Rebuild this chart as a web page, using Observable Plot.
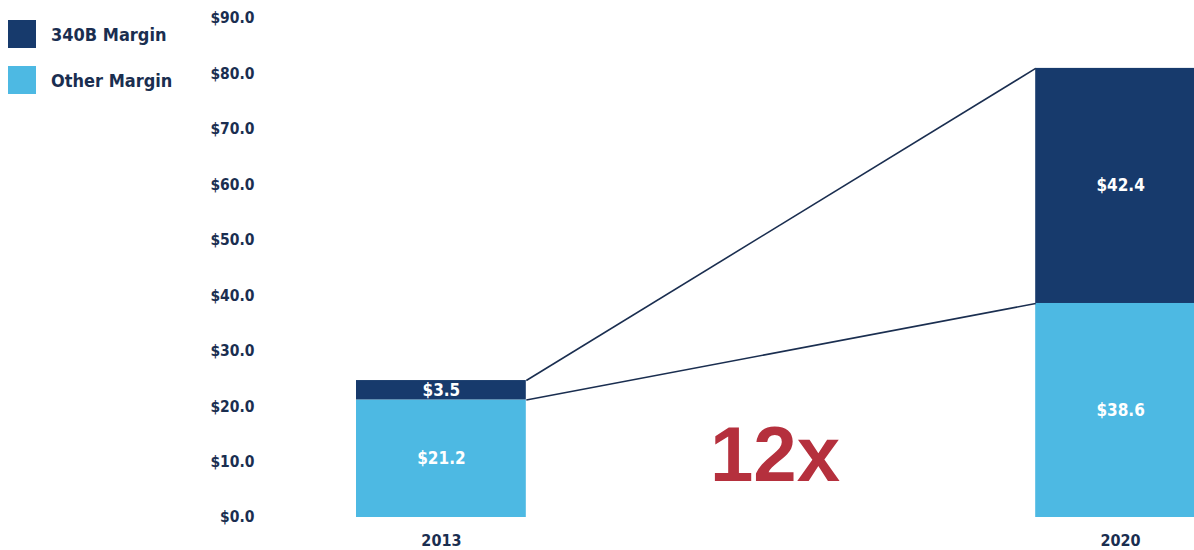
<!DOCTYPE html>
<html>
<head>
<meta charset="utf-8">
<script src="https://cdn.jsdelivr.net/npm/d3@7"></script>
<script src="https://cdn.jsdelivr.net/npm/@observablehq/plot@0.6"></script>
<style>
  html, body { margin: 0; padding: 0; background: #fff; overflow: hidden; }
  #wrap { position: relative; width: 1194px; height: 550px; }
  #legend { position: absolute; left: 8px; top: 20px; font-family: "DejaVu Sans Condensed", "DejaVu Sans", sans-serif; font-weight: bold; font-size: 18px; color: #1a2e50; }
  .item { display: flex; align-items: center; height: 28px; margin-bottom: 18px; }
  .sw { width: 28px; height: 28px; margin-right: 15px; }
</style>
</head>
<body>
<div id="wrap">
  <div id="chart"></div>
  <div id="legend"></div>
</div>
<script>
// ---- data ----
const years = ["2013", "2020"];
const series = ["Other Margin", "340B Margin"];
const otherMargin = [21.2, 38.6];
const margin340B = [3.5, 42.4];
const yTicks = [0, 10, 20, 30, 40, 50, 60, 70, 80, 90];

const colors = { "340B Margin": "#173a6c", "Other Margin": "#4db9e3" };
const navy = "#1a2e50";
const half = 0.125; // half bar width in category steps

// stacked segments
const segments = [];
years.forEach((yr, i) => {
  let base = 0;
  [["Other Margin", otherMargin[i]], ["340B Margin", margin340B[i]]].forEach(([s, v]) => {
    segments.push({ year: yr, i, series: s, value: v, y1: base, y2: base + v });
    base += v;
  });
});

// connecting lines between bars (top of each stack level)
const links = [];
[0, 1].forEach(level => {
  const a = segments.filter(d => d.i === 0)[level];
  const b = segments.filter(d => d.i === 1)[level];
  links.push({ x1: a.i + half, y1: a.y2, x2: b.i - half, y2: b.y2 });
});

const multiple = Math.round(margin340B[1] / margin340B[0]) + "x";
const annotation = [{ x: 0.5, y: 11, label: multiple }];

const font = "'DejaVu Sans Condensed', 'DejaVu Sans', sans-serif";

const chart = Plot.plot({
  width: 1194,
  height: 550,
  marginLeft: 356,
  marginRight: 0,
  marginTop: 18,
  marginBottom: 33,
  style: { fontFamily: font, background: "transparent", overflow: "visible" },
  x: { type: "linear", domain: [-half, 1 + half], range: [356, 1205], axis: null },
  y: { domain: [0, 90], axis: null },
  marks: [
    Plot.rect(segments, {
      x1: d => d.i - half, x2: d => d.i + half,
      y1: "y1", y2: "y2",
      fill: d => colors[d.series]
    }),
    Plot.link(links, { x1: "x1", y1: "y1", x2: "x2", y2: "y2", stroke: navy, strokeWidth: 1.6 }),
    Plot.text(segments, {
      x: "i", y: d => (d.y1 + d.y2) / 2,
      text: d => "$" + d.value.toFixed(1),
      fill: "white", fontSize: 17, fontWeight: "bold"
    }),
    Plot.axisY({
      ticks: yTicks, tickSize: 0, tickPadding: 102,
      tickFormat: d => "$" + d.toFixed(1),
      fontSize: 15.5, fontWeight: "bold", color: navy, label: null
    }),
    Plot.axisX({
      ticks: [0, 1], tickSize: 0, tickPadding: 17,
      tickFormat: d => years[d],
      fontSize: 16, fontWeight: "bold", color: navy, label: null
    }),
    Plot.text(annotation, {
      x: "x", y: "y", text: "label", dx: -6,
      fill: "#b5303d", fontSize: 78, fontWeight: "bold",
      fontFamily: "'Liberation Sans', Arial, sans-serif"
    })
  ]
});
document.getElementById("chart").appendChild(chart);

// legend
const legend = document.getElementById("legend");
["340B Margin", "Other Margin"].forEach(s => {
  const item = document.createElement("div");
  item.className = "item";
  item.innerHTML = `<div class="sw" style="background:${colors[s]}"></div><span>${s}</span>`;
  legend.appendChild(item);
});
</script>
</body>
</html>
